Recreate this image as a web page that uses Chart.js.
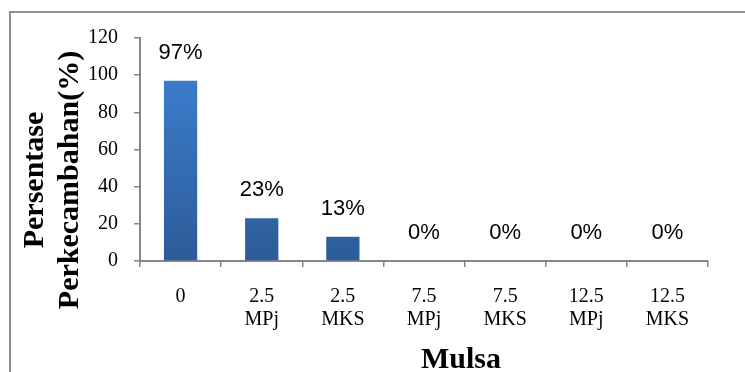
<!DOCTYPE html>
<html>
<head>
<meta charset="utf-8">
<script src="https://cdn.jsdelivr.net/npm/chart.js@4.4.0/dist/chart.umd.min.js"></script>
<style>
  html, body { margin: 0; padding: 0; background: #ffffff; }
  #wrap { position: relative; width: 745px; height: 372px; }
</style>
</head>
<body>
<div id="wrap"><canvas id="c" width="745" height="372"></canvas></div>
<script>
// ---- data ----
const categories = [["0"], ["2.5", "MPj"], ["2.5", "MKS"], ["7.5", "MPj"], ["7.5", "MKS"], ["12.5", "MPj"], ["12.5", "MKS"]];
const germination = [97, 23, 13, 0, 0, 0, 0];
const valueLabels = ["97%", "23%", "13%", "0%", "0%", "0%", "0%"];
const yTicks = [0, 20, 40, 60, 80, 100, 120];
const xTitle = "Mulsa";
const yTitleLines = ["Persentase", "Perkecambahan(%)"];

const AXIS_GRAY = "#868686";
const SERIF = "'Liberation Serif', 'Times New Roman', serif";
const SANS = "'Liberation Sans', Arial, sans-serif";

const decorPlugin = {
  id: "decor",
  beforeDraw(chart) {
    const ctx = chart.ctx;
    ctx.save();
    ctx.fillStyle = "#ffffff";
    ctx.fillRect(0, 0, chart.width, chart.height);
    ctx.strokeStyle = "#8e8e8e";
    ctx.lineWidth = 2;
    ctx.beginPath();
    ctx.moveTo(10, chart.height);
    ctx.lineTo(10, 12);
    ctx.lineTo(chart.width, 12);
    ctx.stroke();
    ctx.restore();
  },
  afterDatasetsDraw(chart) {
    const ctx = chart.ctx;
    const meta = chart.getDatasetMeta(0);
    ctx.save();
    ctx.fillStyle = "#000000";
    ctx.font = "22px " + SANS;
    ctx.textAlign = "center";
    ctx.textBaseline = "middle";
    meta.data.forEach((bar, i) => {
      ctx.fillText(valueLabels[i], bar.x, bar.y - 28);
    });
    ctx.restore();
  },
  afterDraw(chart) {
    const ctx = chart.ctx;
    ctx.save();
    ctx.fillStyle = "#000000";
    ctx.textAlign = "center";
    ctx.textBaseline = "alphabetic";
    ctx.font = "bold 30px " + SERIF;
    ctx.fillText(xTitle, 461, 368);
    const cy = 180;
    [43, 78].forEach((x, i) => {
      ctx.save();
      ctx.translate(x, cy);
      ctx.rotate(-Math.PI / 2);
      ctx.fillText(yTitleLines[i], 0, 0);
      ctx.restore();
    });
    ctx.restore();
  }
};

function barGradient(context) {
  const chart = context.chart;
  const area = chart.chartArea;
  if (!area) return "#3570b8";
  const g = chart.ctx.createLinearGradient(0, area.top + 40, 0, area.bottom);
  g.addColorStop(0, "#3b7dcc");
  g.addColorStop(1, "#2d5b99");
  return g;
}

new Chart(document.getElementById("c"), {
  type: "bar",
  data: {
    labels: categories,
    datasets: [{
      data: germination,
      backgroundColor: barGradient,
      borderWidth: 0,
      categoryPercentage: 1.0,
      barPercentage: 0.41
    }]
  },
  options: {
    responsive: false,
    animation: false,
    devicePixelRatio: 1,
    layout: { padding: { left: 60, right: 37, top: 38, bottom: 0 } },
    plugins: { legend: { display: false }, tooltip: { enabled: false } },
    scales: {
      x: {
        offset: true,
        grid: { offset: true, drawOnChartArea: false, drawTicks: true, tickLength: 6, color: AXIS_GRAY, lineWidth: 1.5 },
        border: { display: true, color: AXIS_GRAY, width: 2 },
        ticks: { color: "#000000", font: { family: SERIF, size: 20, lineHeight: 1.15 }, padding: 18, maxRotation: 0, autoSkip: false },
        afterFit(scale) { scale.height = 111; }
      },
      y: {
        min: 0, max: 120,
        afterBuildTicks(scale) { scale.ticks = yTicks.map(v => ({ value: v })); },
        grid: { drawOnChartArea: false, drawTicks: true, tickLength: 6, color: AXIS_GRAY, lineWidth: 1.5 },
        border: { display: true, color: AXIS_GRAY, width: 2 },
        ticks: { color: "#000000", font: { family: SERIF, size: 20 }, padding: 16 },
        afterFit(scale) { scale.width = 80; }
      }
    }
  },
  plugins: [decorPlugin]
});
</script>
</body>
</html>
